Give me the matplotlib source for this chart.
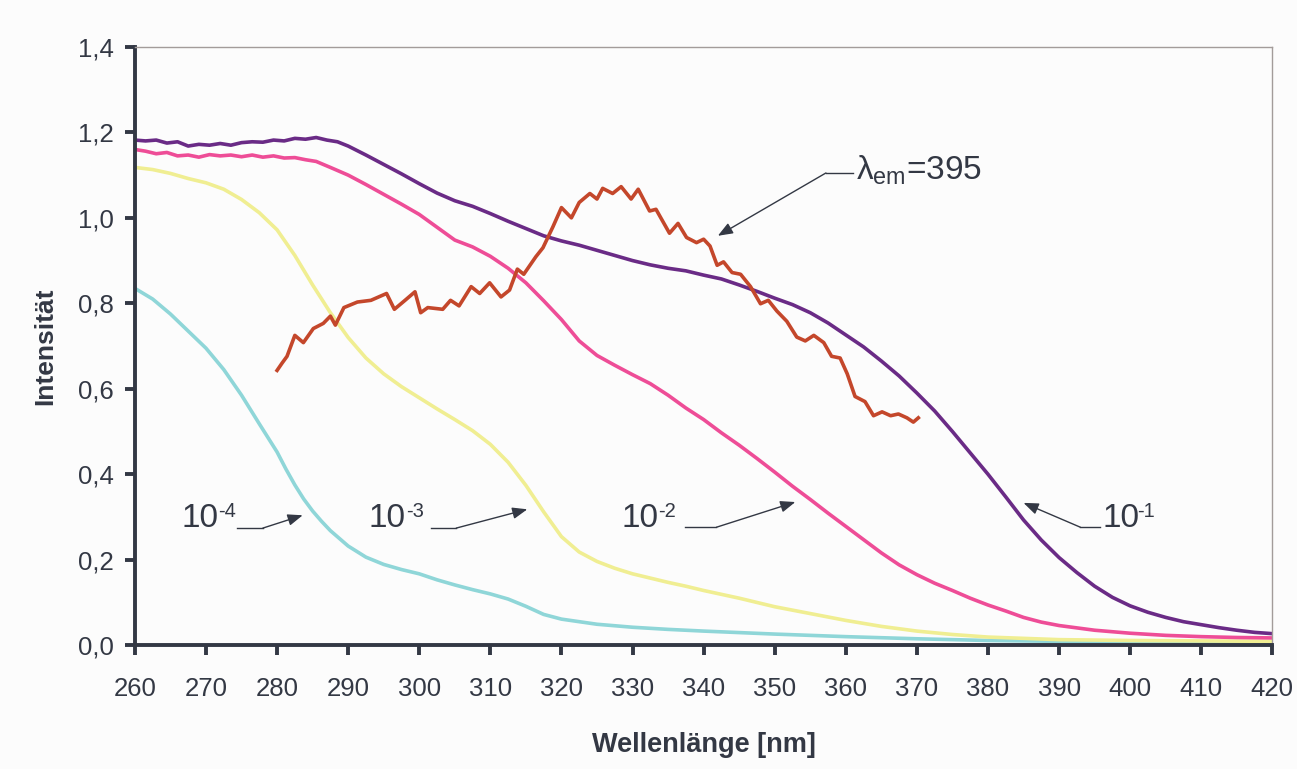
import numpy as np
import matplotlib
matplotlib.use("Agg")
import matplotlib.pyplot as plt

plt.rcParams['font.family'] = ['Liberation Sans', 'DejaVu Sans']
plt.rcParams['mathtext.fontset'] = 'custom'
plt.rcParams['mathtext.rm'] = 'Liberation Sans'
plt.rcParams['mathtext.it'] = 'Liberation Sans'
plt.rcParams['mathtext.bf'] = 'Liberation Sans:bold'

# Anregungsspektren, Intensität gegen Wellenlänge
wl_1 = [260, 261.5, 263, 264.5, 266, 267.5, 269, 270.5, 272, 273.5, 275, 276.5, 278, 279.5,
        281, 282.5, 284, 285.5, 287, 288.5, 290, 292.5,
        295, 297.5, 300, 302.5, 305, 307.5, 310, 312.5, 315, 317.5, 320, 322.5, 325, 327.5,
        330, 332.5, 335, 337.5, 340, 342.5, 345, 347.5, 350, 352.5, 355, 357.5, 360, 362.5,
        365, 367.5, 370, 372.5, 375, 377.5, 380, 382.5, 385, 387.5, 390, 392.5, 395, 397.5,
        400, 402.5, 405, 407.5, 410, 412.5, 415, 417.5, 420]
int_1 = [1.182, 1.180, 1.182, 1.175, 1.178, 1.168, 1.172, 1.170, 1.174, 1.170, 1.176, 1.178,
         1.177, 1.182, 1.180, 1.186, 1.184, 1.188, 1.182, 1.178,
         1.168, 1.147, 1.125, 1.103, 1.080, 1.058, 1.040, 1.027, 1.010, 0.992, 0.975, 0.958,
         0.946, 0.936, 0.924, 0.912, 0.900, 0.890, 0.882, 0.876, 0.866, 0.857, 0.843, 0.828,
         0.812, 0.797, 0.778, 0.754, 0.726, 0.698, 0.665, 0.630, 0.590, 0.548, 0.500, 0.450,
         0.400, 0.347, 0.293, 0.246, 0.205, 0.170, 0.138, 0.112, 0.092, 0.077, 0.065, 0.055,
         0.048, 0.041, 0.035, 0.030, 0.027]

wl_2 = [260, 261.5, 263, 264.5, 266, 267.5, 269, 270.5, 272, 273.5, 275, 276.5, 278, 279.5,
        281, 282.5, 284, 285.5, 287.5, 290, 292.5,
        295, 297.5, 300, 302.5, 305, 307.5, 310, 312.5, 315, 317.5, 320, 322.5, 325, 327.5,
        330, 332.5, 335, 337.5, 340, 342.5, 345, 347.5, 350, 352.5, 355, 357.5, 360, 362.5,
        365, 367.5, 370, 372.5, 375, 377.5, 380, 382.5, 385, 387.5, 390, 395, 400, 405, 410,
        415, 420]
int_2 = [1.160, 1.156, 1.150, 1.153, 1.145, 1.147, 1.142, 1.148, 1.145, 1.147, 1.143, 1.147,
         1.142, 1.145, 1.140, 1.141, 1.136, 1.132, 1.118,
         1.100, 1.078, 1.055, 1.032, 1.008, 0.978, 0.948, 0.932, 0.910, 0.882, 0.848, 0.806,
         0.762, 0.712, 0.678, 0.655, 0.633, 0.612, 0.585, 0.555, 0.528, 0.497, 0.468, 0.437,
         0.405, 0.372, 0.341, 0.309, 0.278, 0.247, 0.216, 0.188, 0.165, 0.145, 0.128, 0.110,
         0.094, 0.080, 0.065, 0.054, 0.046, 0.035, 0.028, 0.023, 0.020, 0.018, 0.017]

wl_3 = [260, 262.5, 265, 267.5, 270, 272.5, 275, 277.5, 280, 282.5, 285, 287.5, 290, 292.5,
        295, 297.5, 300, 302.5, 305, 307.5, 310, 312.5, 315, 317.5, 320, 322.5, 325, 327.5,
        330, 332.5, 335, 337.5, 340, 345, 350, 355, 360, 365, 370, 375, 380, 390, 400, 410, 420]
int_3 = [1.118, 1.113, 1.104, 1.092, 1.082, 1.067, 1.043, 1.012, 0.972, 0.912, 0.843, 0.778,
         0.720, 0.672, 0.635, 0.605, 0.579, 0.553, 0.528, 0.502, 0.470, 0.428, 0.374, 0.312,
         0.254, 0.218, 0.196, 0.180, 0.167, 0.157, 0.147, 0.138, 0.128, 0.110, 0.090, 0.074,
         0.058, 0.044, 0.033, 0.025, 0.019, 0.013, 0.011, 0.010, 0.009]

wl_4 = [260, 262.5, 265, 267.5, 270, 272.5, 275, 277.5, 280, 281.25, 282.5, 283.75, 285,
        286.25, 287.5, 290, 292.5,
        295, 297.5, 300, 302.5, 305, 307.5, 310, 312.5, 315, 317.5, 320, 325, 330, 335, 340,
        350, 360, 370, 380, 390, 400, 410, 420]
int_4 = [0.835, 0.810, 0.775, 0.735, 0.695, 0.645, 0.585, 0.518, 0.452, 0.412, 0.375, 0.342,
         0.314, 0.290, 0.268, 0.232, 0.206, 0.189, 0.177, 0.167, 0.153, 0.141, 0.130, 0.120,
         0.108, 0.091, 0.072, 0.061, 0.049, 0.042, 0.037, 0.033, 0.026, 0.020, 0.015, 0.011,
         0.009, 0.008, 0.007, 0.007]

# Emission bei 395 nm
wl_em = [280.0, 280.7, 281.4, 282.5, 283.7, 285.1, 286.5, 287.5, 288.2, 289.4, 291.3, 293.2,
         295.4, 296.5, 298.0, 299.4, 300.2, 301.2, 303.3, 304.4, 305.6, 307.3, 308.5, 309.9,
         311.5, 312.7, 313.8, 314.7, 316.4, 317.4, 318.8, 320.0, 321.4, 322.5, 324.0, 325.0,
         325.8, 327.2, 328.4, 329.8, 330.8, 332.4, 333.3, 335.2, 336.4, 337.6, 339.0, 340.0,
         340.9, 341.9, 342.8, 344.0, 345.2, 346.6, 348.0, 349.1, 350.3, 351.7, 353.1, 354.3,
         355.5, 356.9, 358.0, 359.2, 360.2, 361.3, 362.7, 363.9, 365.1, 366.3, 367.4, 368.6,
         369.5, 370.2]
int_em = [0.643, 0.660, 0.676, 0.725, 0.708, 0.741, 0.753, 0.770, 0.749, 0.790, 0.803, 0.807,
          0.823, 0.786, 0.807, 0.827, 0.778, 0.790, 0.786, 0.807, 0.794, 0.839, 0.823, 0.848,
          0.815, 0.831, 0.880, 0.868, 0.909, 0.930, 0.979, 1.024, 1.000, 1.036, 1.057, 1.044,
          1.069, 1.057, 1.073, 1.044, 1.067, 1.016, 1.020, 0.964, 0.987, 0.954, 0.942, 0.950,
          0.934, 0.889, 0.897, 0.872, 0.868, 0.839, 0.799, 0.807, 0.782, 0.758, 0.721, 0.712,
          0.725, 0.708, 0.676, 0.672, 0.635, 0.582, 0.570, 0.537, 0.546, 0.537, 0.541, 0.532,
          0.522, 0.532]

x_ticks = [260, 270, 280, 290, 300, 310, 320, 330, 340, 350, 360, 370, 380, 390, 400, 410, 420]
y_ticks = [0.0, 0.2, 0.4, 0.6, 0.8, 1.0, 1.2, 1.4]
y_ticklabels = ["0,0", "0,2", "0,4", "0,6", "0,8", "1,0", "1,2", "1,4"]

dark = '#333844'
bg = '#fcfcfc'

fig = plt.figure(figsize=(12.97, 7.69), dpi=100, facecolor=bg)
ax = fig.add_axes([0.104, 0.161, 0.877, 0.778], facecolor=bg)

lw = 2.6
ax.plot(wl_4, int_4, color='#8fd6d8', lw=lw)
ax.plot(wl_3, int_3, color='#f0ee92', lw=lw)
ax.plot(wl_2, int_2, color='#ee4d97', lw=lw)
ax.plot(wl_1, int_1, color='#6a2b86', lw=lw)
ax.plot(wl_em, int_em, color='#c4472b', lw=lw)

ax.set_xlim(260, 420)
ax.set_ylim(0, 1.4)
ax.set_xticks(x_ticks)
ax.set_yticks(y_ticks)
ax.set_yticklabels(y_ticklabels)

for s in ['left', 'bottom']:
    ax.spines[s].set_color(dark)
    ax.spines[s].set_linewidth(2.8)
for s in ['top', 'right']:
    ax.spines[s].set_color('#a39c9a')
    ax.spines[s].set_linewidth(1.0)

ax.tick_params(axis='both', colors=dark, labelsize=18.5, width=2.8, length=7)
ax.tick_params(axis='x', pad=16)
ax.tick_params(axis='y', pad=8)

ax.set_xlabel("Wellenlänge [nm]", fontsize=19.5, fontweight='bold', color=dark, labelpad=22)
ax.set_ylabel("Intensität", fontsize=19, fontweight='bold', color=dark, labelpad=15)

# Beschriftungen der Kurven mit Pfeilen
arrow = dict(arrowstyle='-|>,head_length=0.9,head_width=0.35', color=dark, lw=1.0,
             shrinkA=0, shrinkB=0)

def label(text, sup, tx, ty, seg, tip, right_side=False):
    ax.plot(seg[0], seg[1], color=dark, lw=1.0)
    if right_side:
        sx, sy = seg[0][0], seg[1][0]
        ax.text(tx, ty, text, fontsize=24, color=dark, ha='left', va='center')
        ax.text(tx + 4.9, ty + 0.018, sup, fontsize=14.5, color=dark, ha='left', va='center')
    else:
        sx, sy = seg[0][1], seg[1][1]
        ax.text(tx, ty, text, fontsize=24, color=dark, ha='right', va='center')
        ax.text(tx, ty + 0.018, sup, fontsize=14.5, color=dark, ha='left', va='center')
    ax.annotate('', xy=tip, xytext=(sx, sy), arrowprops=arrow)

label("10", "-4", 271.7, 0.296, ([274.4, 278.0], [0.274, 0.274]), (283.6, 0.304))
label("10", "-3", 298.1, 0.296, ([301.7, 305.2], [0.274, 0.274]), (315.2, 0.318))
label("10", "-2", 333.6, 0.296, ([337.4, 341.8], [0.276, 0.276]), (352.9, 0.335))
label("10", "-1", 396.1, 0.296, ([393.0, 395.8], [0.276, 0.276]), (385.0, 0.333),
      right_side=True)

ax.plot([357.2, 361.0], [1.105, 1.105], color=dark, lw=1.0)
ax.annotate('', xy=(342.0, 0.958), xytext=(357.2, 1.105), arrowprops=arrow)
ax.text(361.5, 1.112, r"$\lambda_{\mathrm{em}}$=395", fontsize=24, color=dark,
        ha='left', va='center')

plt.savefig("out.png", dpi=100, facecolor=bg)
